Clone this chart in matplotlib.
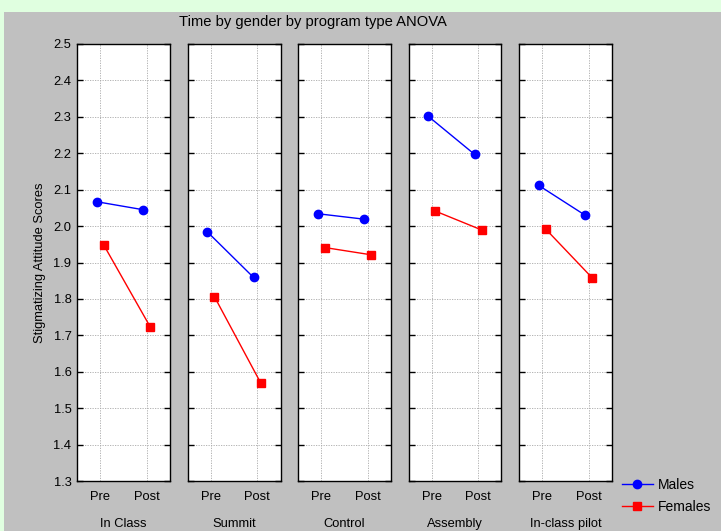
import matplotlib
matplotlib.use("Agg")
import matplotlib.pyplot as plt
from matplotlib.lines import Line2D
from matplotlib.patches import Rectangle

plt.rcParams['font.family'] = ['Liberation Sans', 'DejaVu Sans']

programs = ["In Class", "Summit", "Control", "Assembly", "In-class pilot"]
times = ["Pre", "Post"]
males = [[2.067, 2.045], [1.985, 1.859], [2.034, 2.019], [2.302, 2.197], [2.112, 2.030]]
females = [[1.947, 1.722], [1.806, 1.568], [1.941, 1.921], [2.041, 1.989], [1.991, 1.857]]
yticks = [1.3, 1.4, 1.5, 1.6, 1.7, 1.8, 1.9, 2.0, 2.1, 2.2, 2.3, 2.4, 2.5]

W, H = 721, 531
fig = plt.figure(figsize=(W / 100, H / 100), dpi=100)
fig.patch.set_facecolor('#E0FFE0')
bg = Rectangle((4 / W, 0), 1 - 4 / W, (H - 12) / H, transform=fig.transFigure,
               facecolor='#C0C0C0', edgecolor='none', zorder=-10)
fig.add_artist(bg)

lefts = [77, 187.5, 298, 408.5, 519]
pw = 93
top, bottom = 44, 481
xpos = [1, 2]
off = 0.08

for i, (name, m, f) in enumerate(zip(programs, males, females)):
    ax = fig.add_axes([lefts[i] / W, (H - bottom) / H, pw / W, (bottom - top) / H])
    ax.set_zorder(1)
    ax.set_facecolor('white')
    ax.plot([x - off for x in xpos], m, color='#0000FF', lw=1.0, marker='o', ms=6, zorder=3)
    ax.plot([x + off for x in xpos], f, color='#FF0000', lw=1.0, marker='s', ms=5.5, zorder=3)
    ax.set_xlim(0.5, 2.5)
    ax.set_ylim(1.3, 2.5)
    ax.set_yticks(yticks)
    ax.set_xticks(xpos)
    ax.set_xticklabels(times, fontsize=9.3)
    ax.grid(True, color='#A8A8A8', linestyle=(0, (1.5, 1.5)), lw=0.6)
    ax.tick_params(axis='y', direction='in', length=4, width=1, left=True, right=True,
                   labelsize=9.3, pad=4)
    ax.tick_params(axis='x', length=0, pad=7)
    if i > 0:
        ax.set_yticklabels([])
    else:
        ax.set_yticklabels([f"{v:.1f}" for v in yticks])
        ax.set_ylabel("Stigmatizing Attitude Scores", fontsize=9.3, labelpad=5)
    for s in ax.spines.values():
        s.set_color('black')
        s.set_linewidth(1.0)
    fig.text((lefts[i] + pw / 2) / W, (H - 524) / H, name, ha='center', va='center', fontsize=9.3)

fig.text(313 / W, (H - 22) / H, "Time by gender by program type ANOVA", ha='center', va='center',
         fontsize=10.6)

handles = [Line2D([], [], color='#0000FF', marker='o', ms=6, lw=1.0),
           Line2D([], [], color='#FF0000', marker='s', ms=5.5, lw=1.0)]
fig.legend(handles, ["Males", "Females"], loc='upper left', bbox_to_anchor=(622 / W, (H - 478) / H),
           frameon=False, fontsize=10, handlelength=2.2, handletextpad=0.4, labelspacing=0.55,
           borderaxespad=0, borderpad=0)

fig.savefig("out.png", dpi=100, facecolor=fig.get_facecolor())
